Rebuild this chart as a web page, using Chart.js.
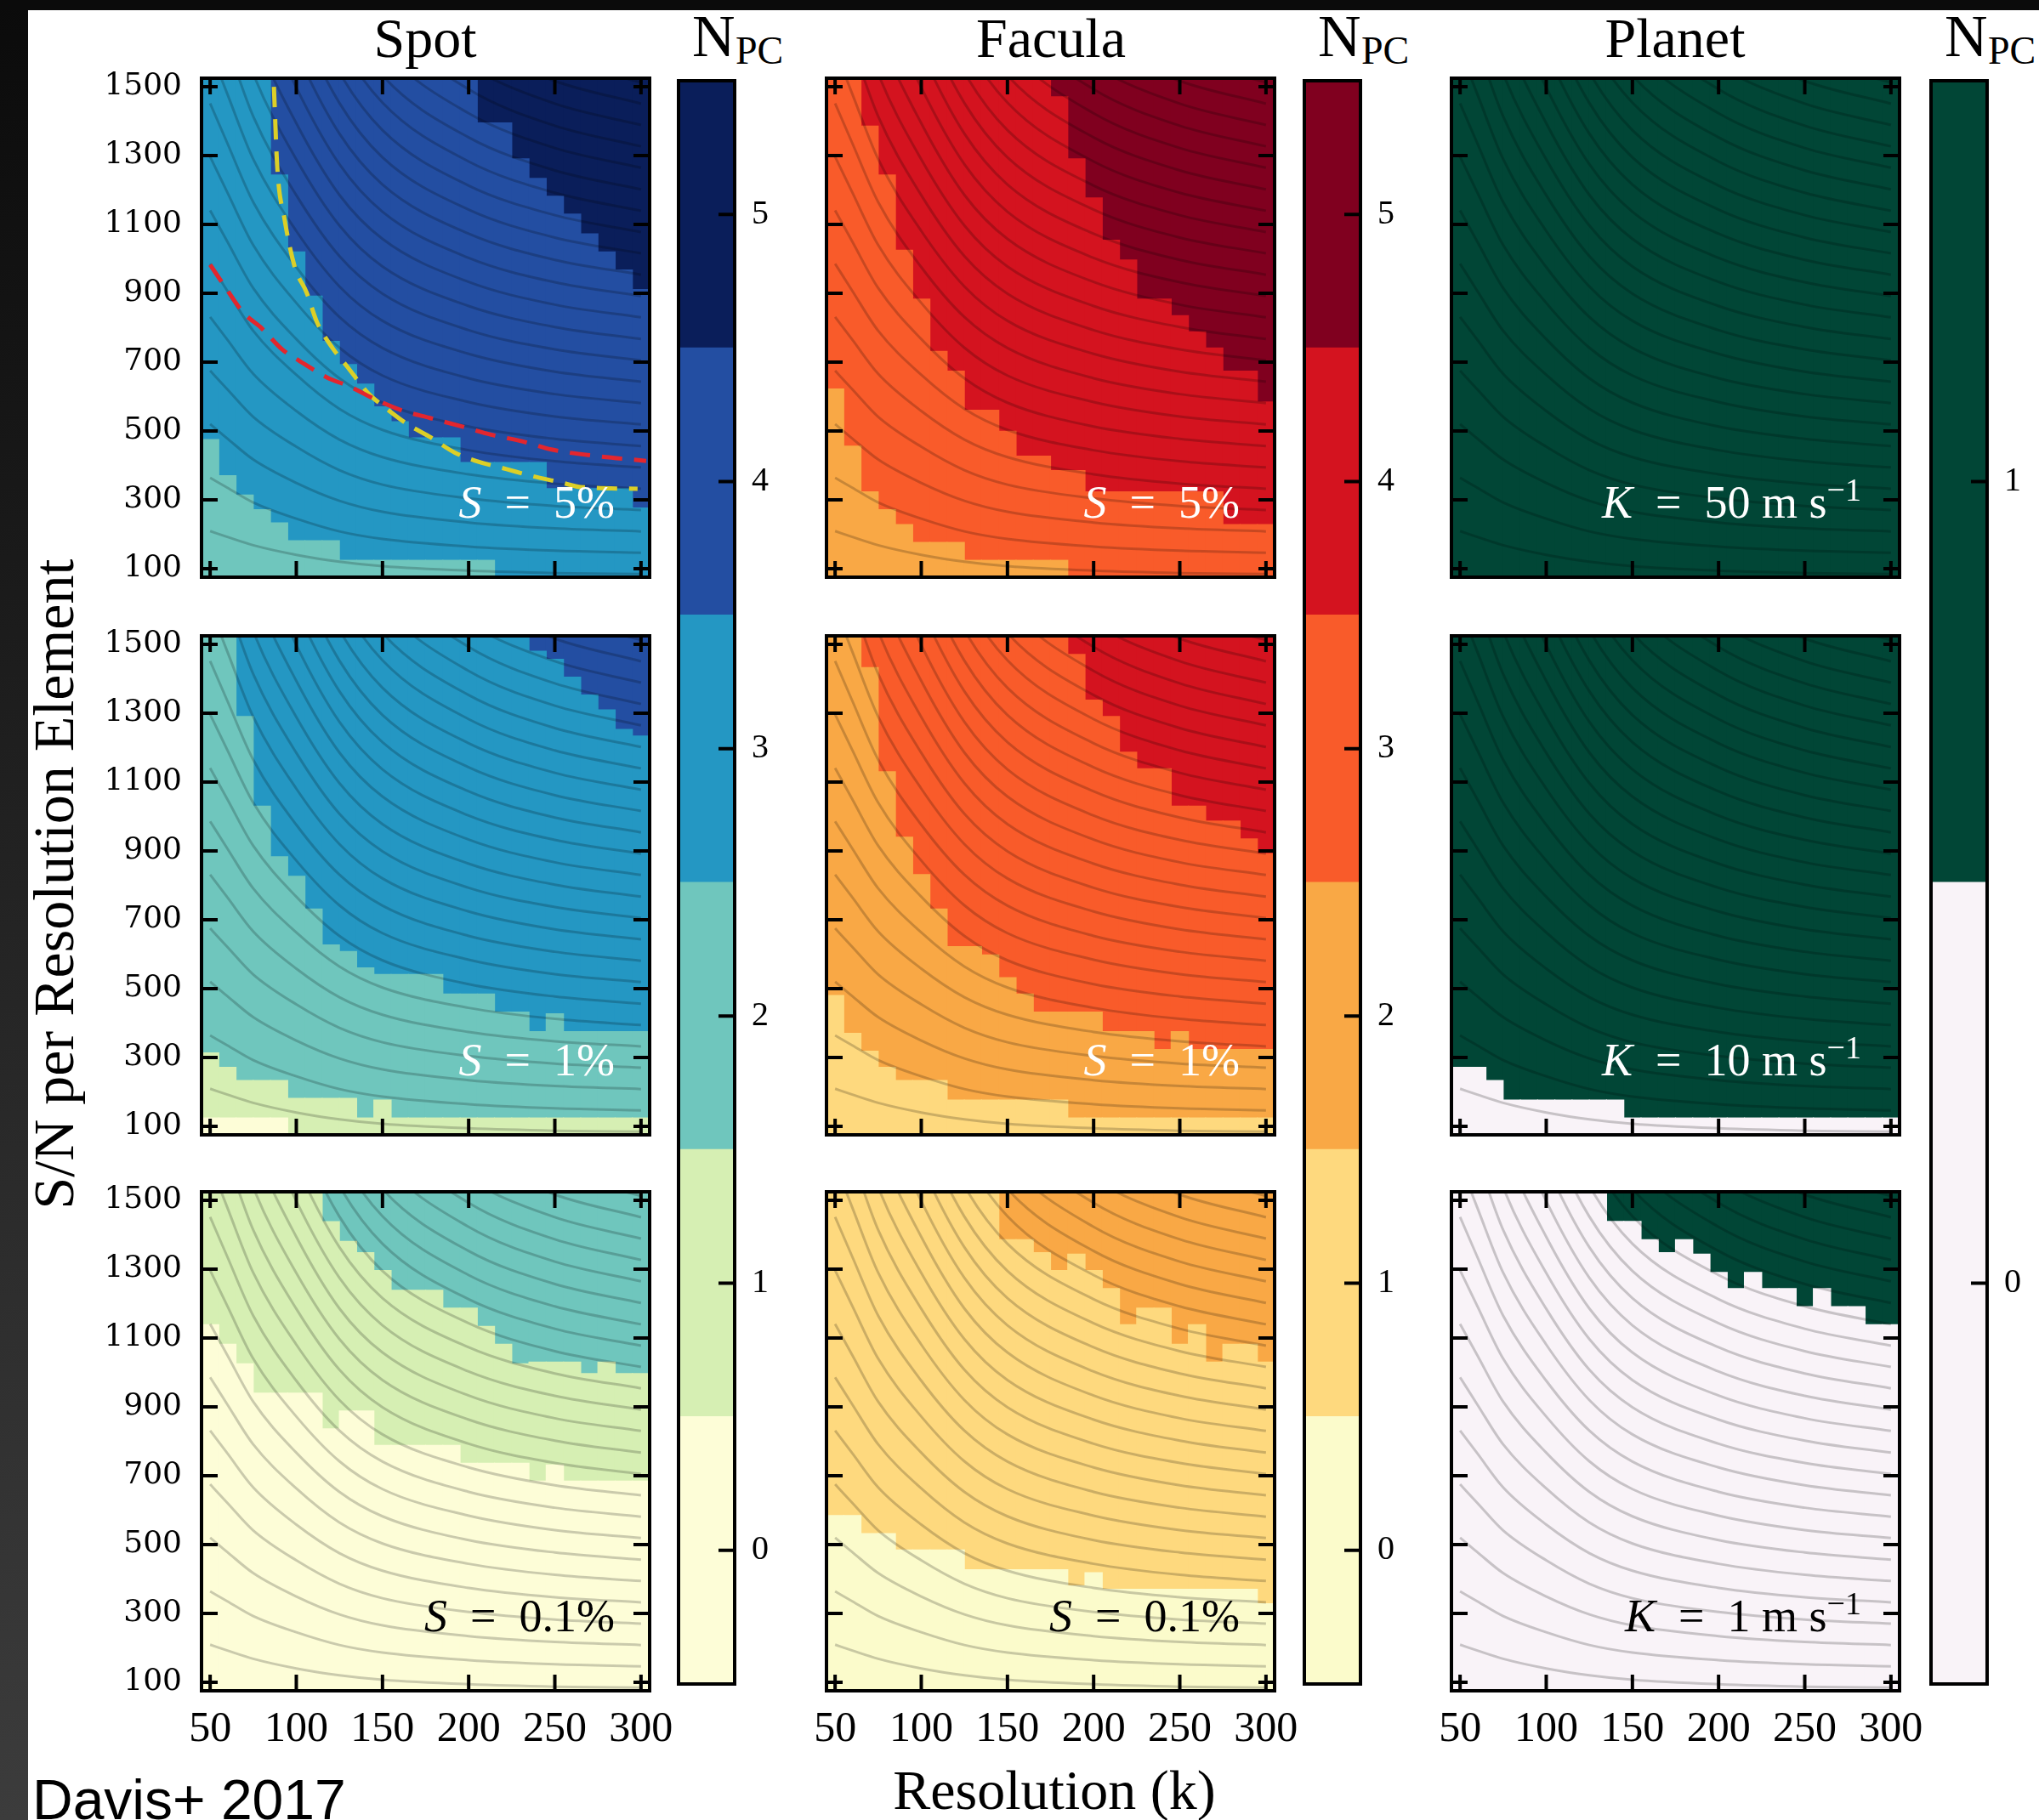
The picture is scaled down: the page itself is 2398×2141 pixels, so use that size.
<!DOCTYPE html>
<html>
<head>
<meta charset="utf-8">
<title>Number of principal components vs resolution and S/N</title>
<script src="https://cdn.jsdelivr.net/npm/chart.js@4.4.1/dist/chart.umd.min.js"></script>
<style>
html,body{margin:0;padding:0;}
body{width:2398px;height:2141px;position:relative;overflow:hidden;background:#fff;}
#leftbar{position:absolute;left:0;top:0;width:33px;height:2141px;background:linear-gradient(#0b0b0b,#3c3c3c);}
#topbar{position:absolute;left:0;top:0;width:2398px;height:12px;background:#0b0b0b;}
canvas{position:absolute;}
.txt{position:absolute;white-space:nowrap;color:#000;font-family:"Liberation Serif","Times New Roman",serif;line-height:1;}
</style>
</head>
<body>
<div id="leftbar"></div><div id="topbar"></div>
<div class="txt" style="left:500px;top:12px;font-size:66px;transform:translateX(-50%);">Spot</div>
<div class="txt" style="left:1236px;top:12px;font-size:66px;transform:translateX(-50%);">Facula</div>
<div class="txt" style="left:1970px;top:12px;font-size:66px;transform:translateX(-50%);">Planet</div>
<div class="txt" style="left:814px;top:8px;font-size:70px;">N</div><div class="txt" style="left:865px;top:37px;font-size:46px;">PC</div>
<div class="txt" style="left:1550px;top:8px;font-size:70px;">N</div><div class="txt" style="left:1601px;top:37px;font-size:46px;">PC</div>
<div class="txt" style="left:2287px;top:8px;font-size:70px;">N</div><div class="txt" style="left:2338px;top:37px;font-size:46px;">PC</div>
<div class="txt" style="left:63px;top:1040px;font-size:68px;transform:translate(-50%,-50%) rotate(-90deg);">S/N per Resolution Element</div>
<div class="txt" style="left:1240px;top:2073px;font-size:66px;transform:translateX(-50%);">Resolution (k)</div>
<div class="txt" style="left:38px;top:2084px;font-size:66px;font-family:'Liberation Sans',Arial,sans-serif;">Davis+ 2017</div>
<script>
// ---------------- data ----------------
const resolution = [50,60,70,80,90,100,110,120,130,140,150,160,170,180,190,200,210,220,230,240,250,260,270,280,290,300];
const resolutionTicks = [50,100,150,200,250,300];
const snTicks = [100,300,500,700,900,1100,1300,1500];
const levelsSpot = [0,1,2,3,4,5];
const levelsFacula = [0,1,2,3,4,5];
const levelsPlanet = [0,1];

// S/N above which N_PC reaches the given level, one value per resolution column
// Spot, S = 5%
const spot5_n3 = [475,370,314,271,233,181,181,181,124,124,124,124,124,124,124,124,124,75,75,75,75,75,75,75,75,75];
const spot5_n4 = [1525,1525,1525,1525,1244,1020,892,760,693,636,570,527,480,480,480,408,408,408,408,408,332,332,332,332,332,276];
const spot5_n5 = [1525,1525,1525,1525,1525,1525,1525,1525,1525,1525,1525,1525,1525,1525,1525,1525,1395,1395,1291,1234,1182,1130,1073,1020,968,911];
// Spot, S = 1%
const spot1_n1 = [124,124,124,124,124,75,75,75,75,75,75,75,75,75,75,75,75,75,75,75,75,75,75,75,75,75];
const spot1_n2 = [313,271,233,233,233,181,181,181,181,124,176,124,124,124,124,124,124,124,124,124,124,124,124,124,124,124];
const spot1_n3 = [1525,1525,1291,1030,883,826,731,627,608,560,541,541,541,541,484,484,484,432,432,375,427,375,375,375,375,375];
const spot1_n4 = [1525,1525,1525,1525,1525,1525,1525,1525,1525,1525,1525,1525,1525,1525,1525,1525,1525,1525,1525,1480,1457,1405,1353,1310,1253,1234];
// Spot, S = 0.1%
const spot01_n1 = [1139,1082,1025,940,940,940,940,836,888,888,788,788,788,788,788,736,736,736,736,684,731,684,684,684,684,684];
const spot01_n2 = [1525,1525,1525,1525,1525,1525,1525,1438,1381,1348,1296,1239,1239,1239,1187,1187,1134,1082,1025,1030,1030,1030,997,1030,997,997];
// Facula, S = 5%
const fac5_n3 = [622,456,323,271,228,176,176,176,124,124,124,124,124,124,75,75,75,75,75,75,75,75,75,75,75,75];
const fac5_n4 = [1525,1525,1386,1244,1025,883,731,674,560,560,499,427,427,385,385,323,323,323,323,323,323,323,323,228,228,228];
const fac5_n5 = [1525,1525,1525,1525,1525,1525,1525,1525,1525,1525,1525,1525,1525,1471,1291,1177,1054,997,883,883,835,788,741,674,674,584];
// Facula, S = 1%
const fac1_n2 = [480,370,318,271,233,233,233,176,176,176,176,176,176,176,124,124,124,124,124,124,124,124,124,124,124,124];
const fac1_n3 = [1525,1525,1433,1130,940,831,731,622,622,598,532,484,432,432,432,432,375,375,375,323,375,323,323,323,323,323];
const fac1_n4 = [1525,1525,1525,1525,1525,1525,1525,1525,1525,1525,1525,1525,1525,1525,1471,1338,1291,1187,1139,1139,1030,1030,987,987,935,892];
// Facula, S = 0.1%
const fac01_n1 = [584,584,532,532,484,484,484,484,427,427,427,427,427,427,380,418,370,370,370,370,370,370,370,370,370,328];
const fac01_n2 = [1525,1525,1525,1525,1525,1525,1525,1525,1525,1525,1386,1386,1348,1296,1344,1296,1244,1139,1187,1187,1082,1139,1030,1082,1082,1030];
// Planet
const planet10_n1 = [271,271,233,176,176,176,176,176,176,176,124,124,124,124,124,124,124,124,124,124,124,124,124,124,124,124];
const planet1_n1 = [1525,1525,1525,1525,1525,1525,1525,1525,1525,1439,1439,1386,1348,1386,1344,1291,1244,1291,1244,1244,1191,1244,1191,1191,1139,1139];

// dashed guide curves (Spot, S = 5%)
const yellowRes = [87,89,93,99,106,112,121,130,142,151,165,177,192,204,222,236,253,265,298];
const yellowSN  = [1500,1263,1120,978,902,816,741,684,608,570,518,484,437,413,389,370,351,337,332];
const redRes = [50,59,69,80,92,102,118,130,147,161,178,196,213,231,248,274,303];
const redSN  = [983,916,845,798,736,703,655,631,589,560,537,513,489,470,446,427,413];

// grey iso-lines: S/N of each line at the resolutions in contourRes
const contourRes = [50,60,75,100,125,150,200,250,300];
const contourTable = [
  [209,192,168,140,120,107,94,87,84],
  [364,335,292,245,208,186,164,152,146],
  [520,478,417,349,297,265,234,217,208],
  [675,621,541,454,386,344,304,282,270],
  [831,765,666,558,475,424,374,347,332],
  [986,907,791,663,564,503,444,412,394],
  [1141,1050,915,767,653,582,513,477,456],
  [1297,1193,1040,872,742,661,584,542,519],
  [1452,1336,1165,976,831,741,653,607,581],
  [1608,1479,1290,1081,920,820,724,672,643],
  [1763,1622,1414,1185,1008,899,793,737,705],
  [1918,1765,1538,1289,1097,978,863,802,767],
  [2074,1908,1663,1394,1186,1058,933,867,830],
  [2229,2051,1788,1498,1275,1137,1003,932,892],
  [2385,2194,1913,1603,1364,1216,1073,997,954],
  [2540,2337,2037,1707,1453,1295,1143,1062,1016],
  [2695,2479,2161,1811,1542,1374,1213,1127,1078],
  [2851,2623,2287,1916,1631,1454,1283,1192,1140],
  [3006,2766,2411,2020,1719,1533,1353,1257,1202],
  [3162,2909,2536,2125,1809,1613,1423,1322,1265],
  [3317,3052,2660,2229,1897,1692,1493,1387,1327],
  [3472,3194,2785,2333,1986,1771,1562,1451,1389],
  [3628,3338,2910,2438,2075,1850,1633,1517,1451],
  [3783,3480,3034,2542,2164,1929,1702,1581,1513]
];

const panelLabels = [['S','5%'],['S','1%'],['S','0.1%'],['S','5%'],['S','1%'],['S','0.1%'],['K','50'],['K','10'],['K','1']];

// ---------------- styles / layout ----------------
const spotColors = ['#fdfdd7','#d6efb3','#6fc6bd','#2497c3','#234ea2','#0a1e5a'];
const faculaColors = ['#fbfbcb','#fed97e','#f9a845','#f95b2a','#d4131f','#80001f'];
const planetColors = ['#f9f3f8','#014636'];
const SN_MIN = 75, SN_MAX = 1525, RES_MIN = 45, RES_MAX = 305;
const colX = [237, 972, 1707], rowY = [92, 748, 1402], PW = 527, PH = 587;
const cbX = [798, 1534, 2271], CBY = 95, CBW = 66, CBH = 1886;
const PAD = 14;

const boxPlugin = {
  id: 'box',
  afterDatasetsDraw(chart, args, o) {
    const {ctx, chartArea: a} = chart;
    const xs = chart.scales.x, ys = chart.scales.y;
    ctx.save();
    ctx.strokeStyle = '#000';
    ctx.lineWidth = o.tickWidth;
    ctx.beginPath();
    (o.xTicks || []).forEach(v => {
      const p = xs.getPixelForValue(v);
      ctx.moveTo(p, a.bottom); ctx.lineTo(p, a.bottom - o.tickLen);
      ctx.moveTo(p, a.top); ctx.lineTo(p, a.top + o.tickLen);
    });
    (o.yTicks || []).forEach(v => {
      const p = ys.getPixelForValue(v);
      if (o.leftTicks) { ctx.moveTo(a.left, p); ctx.lineTo(a.left + o.tickLen, p); }
      ctx.moveTo(a.right, p); ctx.lineTo(a.right - o.tickLen, p);
    });
    ctx.stroke();
    ctx.lineWidth = o.frameWidth;
    ctx.strokeRect(a.left, a.top, a.right - a.left, a.bottom - a.top);
    if (o.label) {
      const parts = o.label;
      let total = 0;
      parts.forEach(p => { ctx.font = p.font; p.w = ctx.measureText(p.t).width; total += p.w; });
      let x = a.right - o.labelRight - total;
      const y = a.bottom - 70;
      ctx.fillStyle = o.ink;
      ctx.textBaseline = 'alphabetic';
      ctx.textAlign = 'left';
      parts.forEach(p => { ctx.font = p.font; ctx.fillText(p.t, x, y - (p.dy || 0)); x += p.w; });
    }
    ctx.restore();
  }
};

function makeCanvas(left, top, w, h) {
  const c = document.createElement('canvas');
  c.width = w; c.height = h;
  c.style.left = left + 'px'; c.style.top = top + 'px';
  c.style.width = w + 'px'; c.style.height = h + 'px';
  document.body.appendChild(c);
  return c;
}

function noPad(s) { s.paddingTop = 0; s.paddingBottom = 0; s.paddingLeft = 0; s.paddingRight = 0; }

function levelDatasets(colors, base, bounds) {
  const top = base + bounds.length;
  const out = [];
  for (let L = base; L <= top; L++) {
    const data = [];
    resolution.forEach((r, i) => {
      const lo = L === base ? SN_MIN : bounds[L - base - 1][i];
      const hi = L === top ? SN_MAX : bounds[L - base][i];
      if (hi > lo) data.push({x: r, y: [lo, hi]});
    });
    out.push({type: 'bar', data, backgroundColor: colors[L], borderWidth: 0,
      barPercentage: 1, categoryPercentage: 1, grouped: false, inflateAmount: 0.6, order: 3});
  }
  return out;
}

function contourDatasets() {
  return contourTable.map(row => ({
    type: 'line', order: 2,
    data: contourRes.map((r, i) => ({x: r, y: row[i]})),
    borderColor: 'rgba(0,0,0,0.2)', borderWidth: 3, pointRadius: 0,
    fill: false, cubicInterpolationMode: 'monotone'
  }));
}

function dashed(resArr, snArr, color) {
  return {type: 'line', order: 1, data: resArr.map((r, i) => ({x: r, y: snArr[i]})),
    borderColor: color, borderWidth: 5, borderDash: [24, 14], pointRadius: 0, fill: false,
    cubicInterpolationMode: 'monotone'};
}

const panelDefs = [
  {col:0,row:0,colors:spotColors,base:2,bounds:[spot5_n3,spot5_n4,spot5_n5],ink:'#fff',dashed:true},
  {col:0,row:1,colors:spotColors,base:0,bounds:[spot1_n1,spot1_n2,spot1_n3,spot1_n4],ink:'#fff'},
  {col:0,row:2,colors:spotColors,base:0,bounds:[spot01_n1,spot01_n2],ink:'#000'},
  {col:1,row:0,colors:faculaColors,base:2,bounds:[fac5_n3,fac5_n4,fac5_n5],ink:'#fff'},
  {col:1,row:1,colors:faculaColors,base:1,bounds:[fac1_n2,fac1_n3,fac1_n4],ink:'#fff'},
  {col:1,row:2,colors:faculaColors,base:0,bounds:[fac01_n1,fac01_n2],ink:'#000'},
  {col:2,row:0,colors:planetColors,base:1,bounds:[],ink:'#fff'},
  {col:2,row:1,colors:planetColors,base:0,bounds:[planet10_n1],ink:'#fff'},
  {col:2,row:2,colors:planetColors,base:0,bounds:[planet1_n1],ink:'#000'}
];

const SERIF = '"Liberation Serif", "Times New Roman", serif';

panelDefs.forEach((p, idx) => {
  const leftM = p.col === 0 ? 210 : PAD;
  const botM = p.row === 2 ? 110 : PAD;
  const rightM = p.row === 2 ? 50 : PAD;
  const cv = makeCanvas(colX[p.col] - leftM, rowY[p.row] - PAD, leftM + PW + rightM, PAD + PH + botM);
  const [sym, val] = panelLabels[idx];
  let label;
  if (sym === 'S') {
    label = [{t: 'S', font: 'italic 54px ' + SERIF}, {t: '\u2002=\u2002' + val, font: '54px ' + SERIF}];
  } else {
    label = [{t: 'K', font: 'italic 54px ' + SERIF}, {t: '\u2002=\u2002' + val + ' m s', font: '54px ' + SERIF},
             {t: '\u22121', font: '38px ' + SERIF, dy: 20}];
  }
  const datasets = levelDatasets(p.colors, p.base, p.bounds).concat(contourDatasets());
  if (p.dashed) {
    datasets.push(dashed(redRes, redSN, '#e3262e'));
    datasets.push(dashed(yellowRes, yellowSN, '#dccf27'));
  }
  new Chart(cv, {
    type: 'bar',
    data: {datasets},
    plugins: [boxPlugin],
    options: {
      responsive: false, animation: false, devicePixelRatio: 1,
      layout: {padding: {top: PAD, right: rightM, left: 0, bottom: 0}},
      plugins: {
        legend: {display: false}, tooltip: {enabled: false},
        box: {xTicks: resolutionTicks, yTicks: snTicks, leftTicks: true, tickLen: 19, tickWidth: 4,
              frameWidth: 4, label, ink: p.ink, labelRight: sym === 'S' ? 41 : 45}
      },
      scales: {
        x: {type: 'linear', min: RES_MIN, max: RES_MAX, offset: false,
            grid: {display: false, drawTicks: false}, border: {display: false},
            afterBuildTicks: ax => { ax.ticks = resolutionTicks.map(v => ({value: v})); },
            ticks: {display: p.row === 2, autoSkip: false, maxRotation: 0, padding: 16, color: '#000',
                    font: {family: SERIF, size: 50}, callback: v => String(v)},
            afterFit: s => { s.height = botM; noPad(s); }},
        y: {type: 'linear', min: SN_MIN, max: SN_MAX,
            grid: {display: false, drawTicks: false}, border: {display: false},
            afterBuildTicks: ax => { ax.ticks = snTicks.map(v => ({value: v})); },
            ticks: {display: p.col === 0, autoSkip: false, padding: 23, color: '#000',
                    font: {family: '"DejaVu Serif", serif', size: 36}, callback: v => String(v)},
            afterFit: s => { s.width = leftM; noPad(s); }}
      }
    }
  });
});

// colour bars
[[levelsSpot, spotColors], [levelsFacula, faculaColors], [levelsPlanet, planetColors]].forEach(([levels, colors], k) => {
  const rightM = 110;
  const cv = makeCanvas(cbX[k] - PAD, CBY - PAD, PAD + CBW + rightM, PAD + CBH + PAD);
  new Chart(cv, {
    type: 'bar',
    data: {labels: ['N'], datasets: levels.map(L => ({data: [[L - 0.5, L + 0.5]], backgroundColor: colors[L],
      borderWidth: 0, barPercentage: 1, categoryPercentage: 1, grouped: false, inflateAmount: 0.6}))},
    plugins: [boxPlugin],
    options: {
      responsive: false, animation: false, devicePixelRatio: 1,
      layout: {padding: {top: PAD, left: PAD, bottom: PAD, right: 0}},
      plugins: {legend: {display: false}, tooltip: {enabled: false},
        box: {xTicks: [], yTicks: levels, leftTicks: false, tickLen: 19, tickWidth: 4, frameWidth: 4}},
      scales: {
        x: {display: false, afterFit: noPad},
        y: {position: 'right', min: -0.5, max: levels.length - 0.5,
            grid: {display: false, drawTicks: false}, border: {display: false},
            afterBuildTicks: ax => { ax.ticks = levels.map(v => ({value: v})); },
            ticks: {padding: 20, color: '#000', font: {family: SERIF, size: 40}, callback: v => String(v)},
            afterFit: s => { s.width = rightM; noPad(s); }}
      }
    }
  });
});
</script>
</body>
</html>
